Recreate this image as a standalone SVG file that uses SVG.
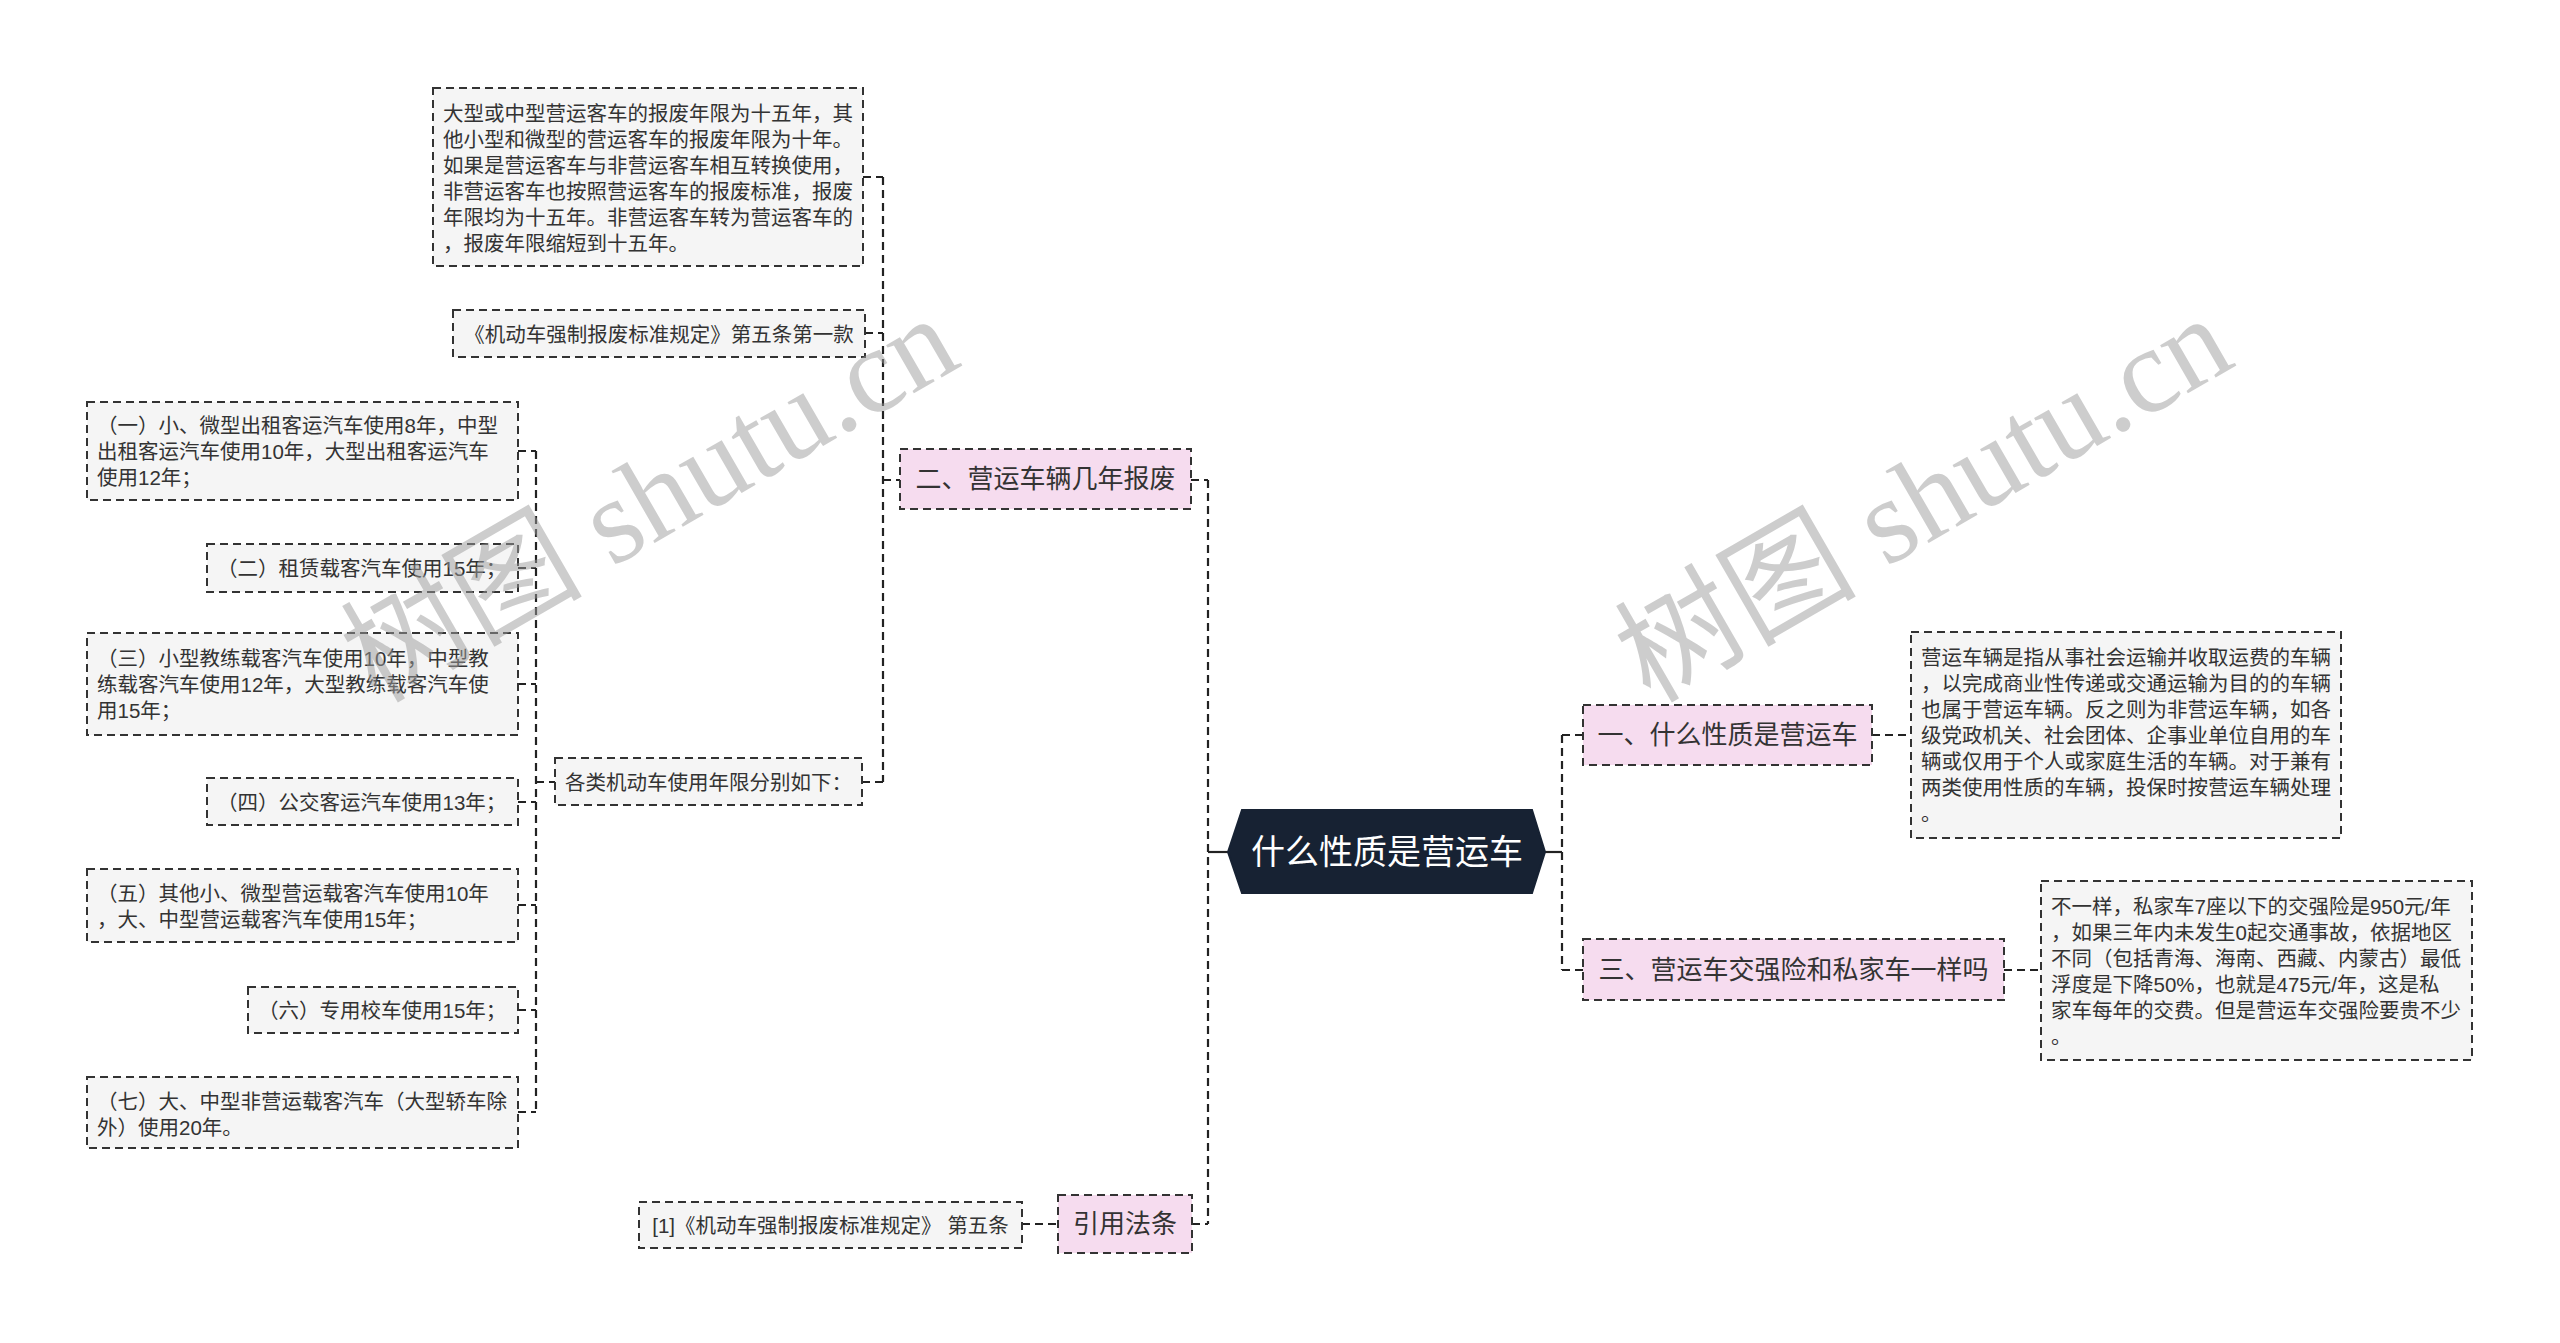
<svg xmlns="http://www.w3.org/2000/svg" width="2560" height="1343" viewBox="0 0 2560 1343">
<style>
.bg{fill:#ffffff}
.box{fill:#f5f5f5;stroke:#333;stroke-width:2;stroke-dasharray:8 5}
.topic{fill:#f6dcef;stroke:#333;stroke-width:2;stroke-dasharray:8 5}
.center{fill:#172233;stroke:#172233;stroke-width:2}
.conn{fill:none;stroke:#222;stroke-width:2.2;stroke-dasharray:8 5}
.solid{fill:none;stroke:#222;stroke-width:2.2}
.t{font-family:"Liberation Sans","Noto Sans CJK SC",sans-serif;font-size:20.5px;fill:#333;dominant-baseline:central}
.tt{font-family:"Liberation Sans","Noto Sans CJK SC",sans-serif;font-size:26px;fill:#333;dominant-baseline:central;text-anchor:middle}
.ct{font-family:"Liberation Sans","Noto Sans CJK SC",sans-serif;font-size:34px;fill:#ffffff;dominant-baseline:central;text-anchor:middle}
.mid{text-anchor:middle}
.wm{font-family:"Liberation Serif","Noto Sans CJK SC",serif;font-size:121px;fill:#9c9c9c;opacity:0.5}
</style>
<rect class="bg" x="0" y="0" width="2560" height="1343"/>

<g id="connectors">
  <path class="solid" d="M1228,852 H1208"/>
  <path class="conn" d="M1208,480 V1224"/>
  <path class="conn" d="M1191,480 H1208"/>
  <path class="conn" d="M1192,1224 H1208"/>
  <path class="solid" d="M1545,852 H1562"/>
  <path class="conn" d="M1562,735 V970"/>
  <path class="conn" d="M1562,735 H1583"/>
  <path class="conn" d="M1562,970 H1583"/>
  <path class="conn" d="M1872,735 H1911"/>
  <path class="conn" d="M2004,970 H2041"/>
  <path class="conn" d="M883,177 V782"/>
  <path class="conn" d="M863,177 H883"/>
  <path class="conn" d="M865,333 H883"/>
  <path class="conn" d="M862,782 H883"/>
  <path class="conn" d="M883,480 H900"/>
  <path class="conn" d="M536,451 V1112"/>
  <path class="conn" d="M518,451 H536"/>
  <path class="conn" d="M518,568 H536"/>
  <path class="conn" d="M518,684 H536"/>
  <path class="conn" d="M518,802 H536"/>
  <path class="conn" d="M518,905 H536"/>
  <path class="conn" d="M518,1010 H536"/>
  <path class="conn" d="M518,1112 H536"/>
  <path class="conn" d="M536,782 H555"/>
  <path class="conn" d="M1022,1224 H1058"/>
</g>

<g id="center">
  <polygon class="center" points="1228,852 1242,810 1532,810 1545,852 1532,893 1242,893"/>
  <text class="ct" x="1387" y="852">什么性质是营运车</text>
</g>

<g id="topic2">
  <rect class="topic" x="900" y="449" width="291" height="60"/>
  <text class="tt" x="1045.5" y="479">二、营运车辆几年报废</text>
</g>

<g id="topic1">
  <rect class="topic" x="1583" y="705" width="289" height="60"/>
  <text class="tt" x="1727.5" y="735">一、什么性质是营运车</text>
</g>

<g id="topic3">
  <rect class="topic" x="1583" y="939" width="421" height="61"/>
  <text class="tt" x="1793.5" y="969.5">三、营运车交强险和私家车一样吗</text>
</g>

<g id="topic4">
  <rect class="topic" x="1058" y="1195" width="134" height="58"/>
  <text class="tt" x="1125" y="1224">引用法条</text>
</g>

<g id="detail-scrap">
  <rect class="box" x="433" y="88" width="430" height="178"/>
  <text class="t" x="443" y="113">大型或中型营运客车的报废年限为十五年，其</text>
  <text class="t" x="443" y="139">他小型和微型的营运客车的报废年限为十年。</text>
  <text class="t" x="443" y="165">如果是营运客车与非营运客车相互转换使用，</text>
  <text class="t" x="443" y="191">非营运客车也按照营运客车的报废标准，报废</text>
  <text class="t" x="443" y="217">年限均为十五年。非营运客车转为营运客车的</text>
  <text class="t" x="443" y="243">，报废年限缩短到十五年。</text>
</g>

<g id="detail-law1">
  <rect class="box" x="453" y="310" width="412" height="47"/>
  <text class="t mid" x="659" y="334">《机动车强制报废标准规定》第五条第一款</text>
</g>

<g id="detail-list">
  <rect class="box" x="555" y="758" width="307" height="47"/>
  <text class="t mid" x="708.5" y="782">各类机动车使用年限分别如下：</text>
</g>

<g id="item1">
  <rect class="box" x="87" y="402" width="431" height="98"/>
  <text class="t" x="97" y="425">（一）小、微型出租客运汽车使用8年，中型</text>
  <text class="t" x="97" y="451">出租客运汽车使用10年，大型出租客运汽车</text>
  <text class="t" x="97" y="477">使用12年；</text>
</g>

<g id="item2">
  <rect class="box" x="207" y="544" width="311" height="48"/>
  <text class="t" x="217" y="568">（二）租赁载客汽车使用15年；</text>
</g>

<g id="item3">
  <rect class="box" x="87" y="633" width="431" height="102"/>
  <text class="t" x="97" y="658">（三）小型教练载客汽车使用10年，中型教</text>
  <text class="t" x="97" y="684">练载客汽车使用12年，大型教练载客汽车使</text>
  <text class="t" x="97" y="710">用15年；</text>
</g>

<g id="item4">
  <rect class="box" x="207" y="778" width="311" height="47"/>
  <text class="t" x="217" y="802">（四）公交客运汽车使用13年；</text>
</g>

<g id="item5">
  <rect class="box" x="87" y="869" width="431" height="73"/>
  <text class="t" x="97" y="893">（五）其他小、微型营运载客汽车使用10年</text>
  <text class="t" x="97" y="919">，大、中型营运载客汽车使用15年；</text>
</g>

<g id="item6">
  <rect class="box" x="248" y="987" width="270" height="46"/>
  <text class="t" x="258" y="1010">（六）专用校车使用15年；</text>
</g>

<g id="item7">
  <rect class="box" x="87" y="1077" width="431" height="71"/>
  <text class="t" x="97" y="1101">（七）大、中型非营运载客汽车（大型轿车除</text>
  <text class="t" x="97" y="1127">外）使用20年。</text>
</g>

<g id="detail-law2">
  <rect class="box" x="639" y="1202" width="383" height="46"/>
  <text class="t mid" x="830.5" y="1225">[1]《机动车强制报废标准规定》 第五条</text>
</g>

<g id="detail-def">
  <rect class="box" x="1911" y="632" width="430" height="206"/>
  <text class="t" x="1921" y="657">营运车辆是指从事社会运输并收取运费的车辆</text>
  <text class="t" x="1921" y="683">，以完成商业性传递或交通运输为目的的车辆</text>
  <text class="t" x="1921" y="709">也属于营运车辆。反之则为非营运车辆，如各</text>
  <text class="t" x="1921" y="735">级党政机关、社会团体、企事业单位自用的车</text>
  <text class="t" x="1921" y="761">辆或仅用于个人或家庭生活的车辆。对于兼有</text>
  <text class="t" x="1921" y="787">两类使用性质的车辆，投保时按营运车辆处理</text>
  <text class="t" x="1921" y="813">。</text>
</g>

<g id="detail-ins">
  <rect class="box" x="2041" y="881" width="431" height="179"/>
  <text class="t" x="2051" y="906">不一样，私家车7座以下的交强险是950元/年</text>
  <text class="t" x="2051" y="932">，如果三年内未发生0起交通事故，依据地区</text>
  <text class="t" x="2051" y="958">不同（包括青海、海南、西藏、内蒙古）最低</text>
  <text class="t" x="2051" y="984">浮度是下降50%，也就是475元/年，这是私</text>
  <text class="t" x="2051" y="1010">家车每年的交费。但是营运车交强险要贵不少</text>
  <text class="t" x="2051" y="1036">。</text>
</g>

<g id="watermarks">
  <text class="wm" transform="translate(376,704) rotate(-30)">树图 shutu.cn</text>
  <text class="wm" transform="translate(1650,704) rotate(-30)">树图 shutu.cn</text>
</g>
</svg>
